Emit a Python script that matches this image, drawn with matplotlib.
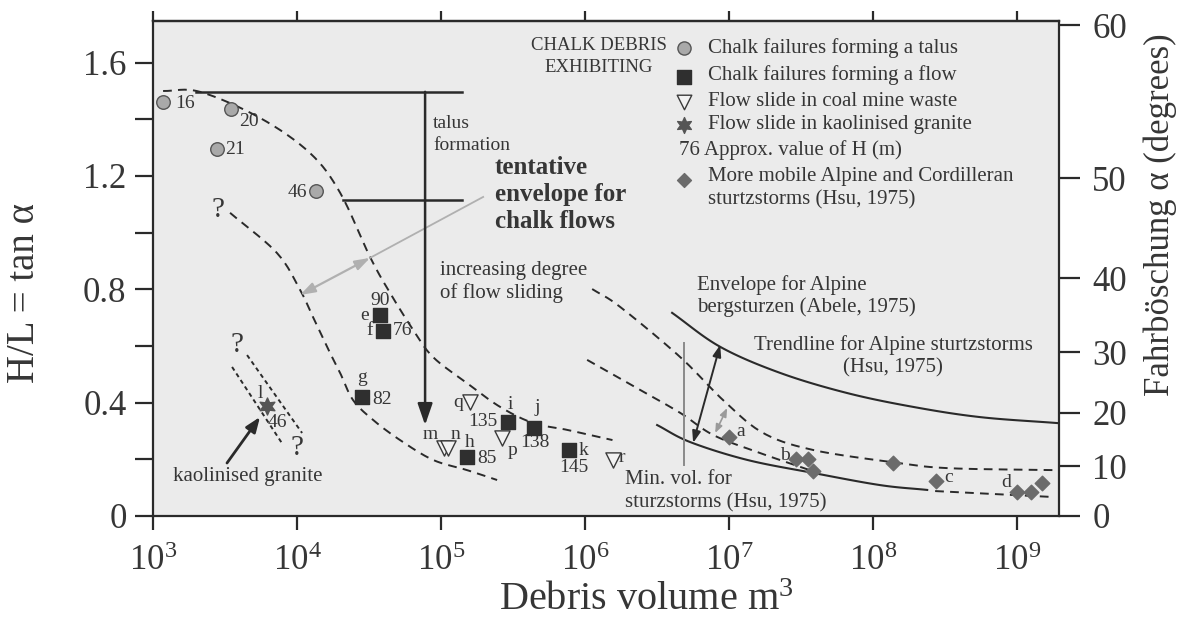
import numpy as np
import matplotlib
matplotlib.use("Agg")
import matplotlib.pyplot as plt
from matplotlib.ticker import FixedLocator, NullLocator

plt.rcParams['font.family'] = ['Liberation Serif', 'DejaVu Serif']
plt.rcParams['mathtext.fontset'] = 'custom'
plt.rcParams['mathtext.rm'] = 'Liberation Serif'
plt.rcParams['mathtext.it'] = 'Liberation Serif:italic'

TXT = '#363636'
LINE = '#2a2a2a'

# ---------------- data ----------------
# Chalk failures forming a talus (volume m3, H/L, label H)
talus_vol = [1170, 3500, 2800, 13500]
talus_hl = [1.46, 1.437, 1.295, 1.147]
talus_lab = ['16', '20', '21', '46']

# Chalk failures forming a flow
flow_vol = [37700, 39600, 28200, 151000, 292000, 443000, 777000]
flow_hl = [0.709, 0.653, 0.42, 0.208, 0.332, 0.311, 0.233]
flow_letter = ['e', 'f', 'g', 'h', 'i', 'j', 'k']
flow_h = ['90', '76', '82', '85', '135', '138', '145']

# Flow slides in coal mine waste
coal_vol = [159000, 105000, 111000, 266000, 1560000]
coal_hl = [0.402, 0.24, 0.24, 0.275, 0.198]
coal_lab = ['q', 'm', 'n', 'p', 'r']

# Flow slide in kaolinised granite
kaol_vol = [6200]
kaol_hl = [0.388]
kaol_lab = ['l']
kaol_h = ['46']

# More mobile Alpine and Cordilleran sturzstroms (Hsu, 1975)
alp_vol = [1.0e7, 2.9e7, 3.5e7, 3.8e7, 1.38e8, 2.75e8, 1.0e9, 1.25e9, 1.48e9]
alp_hl = [0.279, 0.201, 0.201, 0.159, 0.187, 0.124, 0.085, 0.085, 0.117]
alp_lab = ['a', 'b', '', '', '', 'c', 'd', '', '']

# envelope curves (log10 volume, H/L)
chalk_upper_logv = [3.07, 3.326, 3.743, 4.09, 4.30, 4.507, 4.646, 4.806, 4.944, 5.18, 5.41, 5.64, 5.875, 6.19]
chalk_upper_hl = [1.50, 1.497, 1.405, 1.281, 1.14, 0.914, 0.787, 0.657, 0.561, 0.469, 0.385, 0.328, 0.304, 0.268]
chalk_lower_logv = [3.535, 3.861, 4.021, 4.111, 4.208, 4.299, 4.389, 4.528, 4.715, 4.944, 5.18, 5.389]
chalk_lower_hl = [1.07, 0.928, 0.798, 0.702, 0.597, 0.505, 0.409, 0.339, 0.268, 0.198, 0.162, 0.127]
kaol_env1_logv = [3.549, 3.903]
kaol_env1_hl = [0.526, 0.251]
kaol_env2_logv = [3.653, 4.035]
kaol_env2_hl = [0.568, 0.293]
slide1_logv = [6.049, 6.243, 6.66, 6.958, 7.236, 7.583, 8.118, 8.514, 9.25]
slide1_hl = [0.801, 0.738, 0.561, 0.409, 0.293, 0.233, 0.191, 0.169, 0.162]
slide2_logv = [6.014, 6.382, 6.66, 6.889, 7.194, 7.576]
slide2_hl = [0.551, 0.445, 0.364, 0.286, 0.226, 0.159]
slide3_logv = [8.43, 9.25]
slide3_hl = [0.088, 0.067]
abele_logv = [6.604, 6.938, 7.354, 7.819, 8.278, 8.743, 9.278]
abele_hl = [0.717, 0.597, 0.505, 0.434, 0.385, 0.349, 0.328]
minvol_logv = [6.5, 6.729, 7.125, 7.583, 8.049, 8.375]
minvol_hl = [0.321, 0.261, 0.198, 0.152, 0.109, 0.092]

# talus formation bracket
talus_top_hl = 1.497
talus_low_hl = 1.115
talus_top_logv = [3.30, 5.146]
talus_low_logv = [4.32, 5.146]
talus_arrow_logv = 4.889
talus_arrow_tip = 0.321
min_vol_logv = 6.6875
min_vol_hl = [0.61, 0.18]

# axes ticks
x_ticks = [1e3, 1e4, 1e5, 1e6, 1e7, 1e8, 1e9]
x_tick_labels = [r'$10^{3}$', r'$10^{4}$', r'$10^{5}$', r'$10^{6}$', r'$10^{7}$', r'$10^{8}$', r'$10^{9}$']
y_ticks = [0, 0.4, 0.8, 1.2, 1.6]
y_tick_labels = ['0', '0.4', '0.8', '1.2', '1.6']
y_minor = [0.2, 0.6, 1.0, 1.4]
deg_ticks = [0, 10, 20, 30, 40, 50, 60]

# ---------------- figure ----------------
W, H = 1183, 624
fig = plt.figure(figsize=(W / 100, H / 100), dpi=100)
AL, AR, AT, AB = 153, 1059, 21, 516
ax = fig.add_axes([AL / W, 1 - AB / H, (AR - AL) / W, (AB - AT) / H])
ax.set_facecolor('#ebebeb')
ax.set_xscale('log')
ax.set_xlim(1e3, 10 ** 9.29)
ax.set_ylim(0, 1.747)


def P(x, y):
    """pixel -> axes fraction"""
    return ((x - AL) / (AR - AL), (AB - y) / (AB - AT))


def smooth_plot(lx, y, **kw):
    """draw a smooth (Catmull-Rom) curve through the read points"""
    lx = np.asarray(lx, float)
    y = np.asarray(y, float)
    if len(lx) < 3:
        ax.plot(10 ** lx, y, **kw)
        return
    px = np.concatenate([[2 * lx[0] - lx[1]], lx, [2 * lx[-1] - lx[-2]]])
    py = np.concatenate([[2 * y[0] - y[1]], y, [2 * y[-1] - y[-2]]])
    xs, ys = [], []
    t = np.linspace(0, 1, 16, endpoint=False)
    for i in range(1, len(px) - 2):
        for arr, out in ((px, xs), (py, ys)):
            p0, p1, p2, p3 = arr[i - 1], arr[i], arr[i + 1], arr[i + 2]
            out.extend(0.5 * ((2 * p1) + (-p0 + p2) * t + (2 * p0 - 5 * p1 + 4 * p2 - p3) * t ** 2
                              + (-p0 + 3 * p1 - 3 * p2 + p3) * t ** 3))
    xs.append(lx[-1])
    ys.append(y[-1])
    ax.plot(10 ** np.array(xs), ys, **kw)


for s in ax.spines.values():
    s.set_linewidth(1.6)
    s.set_color(LINE)

ax.set_xticks(x_ticks)
ax.set_xticklabels(x_tick_labels)
ax.xaxis.set_minor_locator(NullLocator())
ax.set_yticks(y_ticks)
ax.set_yticklabels(y_tick_labels)
ax.yaxis.set_minor_locator(FixedLocator(y_minor))
ax.tick_params(axis='x', which='major', direction='out', length=10, width=1.6,
               color=LINE, labelsize=25, labelcolor=TXT, pad=11)
ax.tick_params(axis='y', which='both', direction='out', length=13, width=1.6,
               color=LINE, labelsize=25, labelcolor=TXT, pad=6)

sec = ax.secondary_xaxis('top')
sec.set_xticks(x_ticks)
sec.xaxis.set_minor_locator(NullLocator())
sec.tick_params(direction='out', length=7, width=1.6, color=LINE, labeltop=False)
sec.spines['top'].set_linewidth(1.6)
sec.spines['top'].set_color(LINE)

ax2 = ax.twinx()
ax2.set_ylim(ax.get_ylim())
ax2.set_yticks(np.tan(np.radians(deg_ticks)))
ax2.set_yticklabels([str(d) for d in deg_ticks])
ax2.yaxis.set_minor_locator(NullLocator())
ax2.tick_params(direction='out', length=15, width=1.6, color=LINE,
                labelsize=25, labelcolor=TXT, pad=9)
for s in ax2.spines.values():
    s.set_visible(False)

fig.text(646 / W, 1 - 610 / H, r'Debris volume m$^{3}$',
         ha='center', va='baseline', fontsize=29, color=TXT)
fig.text(25 / W, 1 - 293 / H, 'H/L = tan α', rotation=90, ha='center', va='center',
         fontsize=28, color=TXT)
fig.text(1160 / W, 1 - 215 / H, 'Fahrböschung α (degrees)', rotation=90,
         ha='center', va='center', fontsize=25, color=TXT)

# ---------------- lines ----------------
dash = (0, (4.5, 3.2))
smooth_plot(chalk_upper_logv, chalk_upper_hl, color=LINE, lw=1.4, ls=dash)
smooth_plot(chalk_lower_logv, chalk_lower_hl, color=LINE, lw=1.4, ls=dash)
smooth_plot(kaol_env1_logv, kaol_env1_hl, color=LINE, lw=1.4, ls=(0, (2.2, 1.8)))
smooth_plot(kaol_env2_logv, kaol_env2_hl, color=LINE, lw=1.4, ls=(0, (2.2, 1.8)))
smooth_plot(slide1_logv, slide1_hl, color=LINE, lw=1.4, ls=dash)
smooth_plot(slide2_logv, slide2_hl, color=LINE, lw=1.4, ls=dash)
smooth_plot(slide3_logv, slide3_hl, color=LINE, lw=1.4, ls=dash)
smooth_plot(abele_logv, abele_hl, color=LINE, lw=1.5)
smooth_plot(minvol_logv, minvol_hl, color=LINE, lw=1.5)

ax.plot([10 ** v for v in talus_top_logv], [talus_top_hl] * 2, color=LINE, lw=1.8)
ax.plot([10 ** v for v in talus_low_logv], [talus_low_hl] * 2, color=LINE, lw=1.8)
ax.annotate('', xy=(10 ** talus_arrow_logv, talus_arrow_tip),
            xytext=(10 ** talus_arrow_logv, talus_top_hl),
            arrowprops=dict(arrowstyle='-|>,head_length=1.3,head_width=0.45',
                            color=LINE, lw=1.8, shrinkA=0, shrinkB=0))
ax.plot([10 ** min_vol_logv] * 2, min_vol_hl, color='#8a8a8a', lw=1.4)

# gray pointer / double arrow for chalk envelope
ax.plot([10 ** 5.292, 10 ** 4.507], [1.126, 0.911], color='#b0b0b0', lw=1.3)
ax.annotate('', xy=(10 ** 4.021, 0.780), xytext=(10 ** 4.507, 0.911),
            arrowprops=dict(arrowstyle='<|-|>,head_length=0.9,head_width=0.3',
                            color='#b0b0b0', lw=1.6, shrinkA=0, shrinkB=0))
# black double arrow between Alpine lines
ax.annotate('', xy=(10 ** 6.75, 0.258), xytext=(10 ** 6.938, 0.604),
            arrowprops=dict(arrowstyle='<|-|>,head_length=0.7,head_width=0.25',
                            color=LINE, lw=1.4, shrinkA=0, shrinkB=0))
ax.annotate('', xy=(10 ** 6.903, 0.293), xytext=(10 ** 6.986, 0.381),
            arrowprops=dict(arrowstyle='<|-|>,head_length=0.5,head_width=0.2',
                            color='#9a9a9a', lw=1.2, shrinkA=0, shrinkB=0))
# kaolinised granite arrow
ax.annotate('', xy=P(260, 417), xytext=P(227, 463), xycoords='axes fraction',
            textcoords='axes fraction',
            arrowprops=dict(arrowstyle='-|>,head_length=0.9,head_width=0.35',
                            color=LINE, lw=2.0, shrinkA=0, shrinkB=0))

# ---------------- markers ----------------
STAR = (6, 1, 0)
ax.scatter(talus_vol, talus_hl, s=95, marker='o', facecolor='#a9a9a9',
           edgecolor='#555555', linewidth=1.0, zorder=5)
ax.scatter(flow_vol, flow_hl, s=110, marker='s', facecolor='#2f2f2f',
           edgecolor='#2f2f2f', zorder=5)
ax.scatter(coal_vol, coal_hl, s=120, marker='v', facecolor='#f2f2f2',
           edgecolor='#3a3a3a', linewidth=1.0, zorder=5)
ax.scatter(kaol_vol, kaol_hl, s=150, marker=STAR, facecolor='#555555',
           edgecolor='#555555', zorder=5)
ax.scatter(alp_vol, alp_hl, s=55, marker='D', facecolor='#6b6b6b',
           edgecolor='#6b6b6b', zorder=5)

LFS = 14


def lab(txt, x, y, dx, dy, ha='left'):
    ax.annotate(txt, (x, y), xytext=(dx * 0.72, -dy * 0.72), textcoords='offset points',
                ha=ha, va='center', fontsize=LFS, color=TXT)


talus_off = [(12, 1, 'left'), (18, 13, 'center'), (8, 0, 'left'), (-9, 1, 'right')]
for v, h, t, o in zip(talus_vol, talus_hl, talus_lab, talus_off):
    lab(t, v, h, o[0], o[1], o[2])

letter_off = [(-11, 0, 'right'), (-10, 0, 'right'), (0, -19, 'center'), (3, -15, 'center'),
              (2, -17, 'center'), (3, -20, 'center'), (9, 1, 'left')]
h_off = [(0, -15, 'center'), (10, 0, 'left'), (10, 3, 'left'), (10, 1, 'left'),
         (-11, 0, 'right'), (1, 15, 'center'), (5, 18, 'center')]
for v, h, t, o in zip(flow_vol, flow_hl, flow_letter, letter_off):
    lab(t, v, h, o[0], o[1], o[2])
for v, h, t, o in zip(flow_vol, flow_hl, flow_h, h_off):
    lab(t, v, h, o[0], o[1], o[2])

coal_off = [(-7, 0, 'right'), (-14, -13, 'center'), (8, -13, 'center'), (10, 12, 'center'),
            (6, -2, 'left')]
for v, h, t, o in zip(coal_vol, coal_hl, coal_lab, coal_off):
    lab(t, v, h, o[0], o[1], o[2])

lab(kaol_lab[0], kaol_vol[0], kaol_hl[0], -7, -13, 'center')
lab(kaol_h[0], kaol_vol[0], kaol_hl[0], 10, 16, 'center')

alp_off = [(7, -5, 'left'), (-6, -4, 'right'), None, None, None, (8, -3, 'left'),
           (-6, -9, 'right'), None, None]
for v, h, t, o in zip(alp_vol, alp_hl, alp_lab, alp_off):
    if t:
        lab(t, v, h, o[0], o[1], o[2])


# ---------------- annotations ----------------
def put(x, y, s, **kw):
    kw.setdefault('fontsize', 15)
    kw.setdefault('color', TXT)
    kw.setdefault('va', 'center')
    kw.setdefault('ha', 'left')
    ax.text(*P(x, y), s, transform=ax.transAxes, **kw)


put(433, 123, 'talus', fontsize=14)
put(433, 145, 'formation', fontsize=14)
put(495, 167, 'tentative', fontsize=18, fontweight='bold')
put(495, 195, 'envelope for', fontsize=18, fontweight='bold')
put(495, 222, 'chalk flows', fontsize=18, fontweight='bold')
put(440, 271, 'increasing degree')
put(440, 293, 'of flow sliding')
put(697, 285, 'Envelope for Alpine')
put(697, 307, 'bergsturzen (Abele, 1975)')
put(893, 345, 'Trendline for Alpine sturtzstorms', ha='center')
put(893, 368, '(Hsu, 1975)', ha='center')
put(625, 480, 'Min. vol. for')
put(625, 503, 'sturzstorms (Hsu, 1975)')
put(248, 477, 'kaolinised granite', ha='center')
put(218, 210, '?', fontsize=21, ha='center')
put(237, 345, '?', fontsize=21, ha='center')
put(297, 448, '?', fontsize=21, ha='center')
put(599, 45, 'CHALK DEBRIS', fontsize=13.5, ha='center')
put(599, 68, 'EXHIBITING', fontsize=13.5, ha='center')

# legend
leg_y = [48, 75, 102, 125, 150, 177, 200]
leg_txt = ['Chalk failures forming a talus', 'Chalk failures forming a flow',
           'Flow slide in coal mine waste', 'Flow slide in kaolinised granite',
           '76 Approx. value of H (m)', 'More mobile Alpine and Cordilleran',
           'sturtzstorms (Hsu, 1975)']
mk = dict(transform=ax.transAxes, zorder=6, clip_on=False)
ax.scatter(*P(684, leg_y[0]), s=90, marker='o', facecolor='#a9a9a9', edgecolor='#555555', **mk)
ax.scatter(*P(684, leg_y[1] + 2), s=100, marker='s', facecolor='#2f2f2f', **mk)
ax.scatter(*P(684, leg_y[2]), s=110, marker='v', facecolor='#f2f2f2', edgecolor='#3a3a3a', **mk)
ax.scatter(*P(684, leg_y[3]), s=130, marker=STAR, facecolor='#555555', edgecolor='#555555', **mk)
ax.scatter(*P(684, leg_y[5] + 3), s=50, marker='D', facecolor='#6b6b6b', **mk)
for i, (y, s) in enumerate(zip(leg_y, leg_txt)):
    put(679 if i == 4 else 708, y, s)

fig.savefig('out.png', dpi=100, facecolor='white')
